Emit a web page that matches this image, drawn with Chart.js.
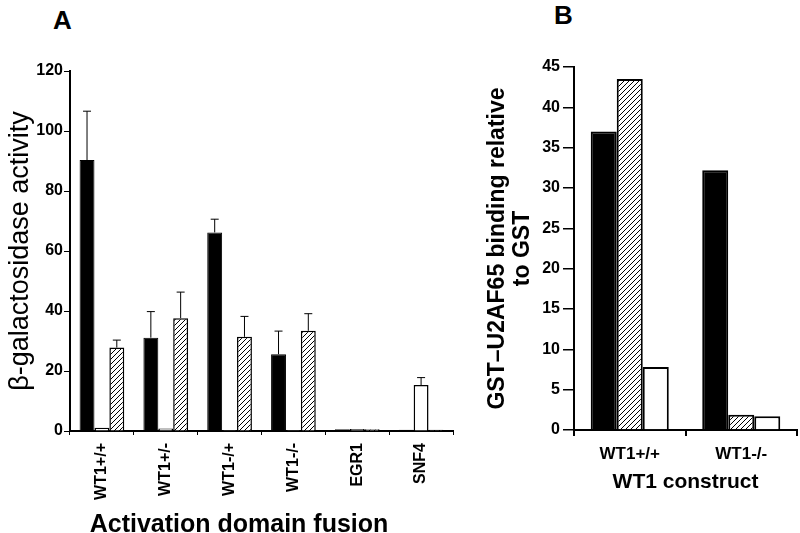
<!DOCTYPE html>
<html>
<head>
<meta charset="utf-8">
<script src="https://cdn.jsdelivr.net/npm/chart.js@4"></script>
<style>
  html, body { margin: 0; padding: 0; background: #fff; }
  body { position: relative; width: 800px; height: 533px; overflow: hidden;
         font-family: 'Liberation Sans', Arial, sans-serif; color: #000; }
  .panel-letter { position: absolute; font-weight: bold; font-size: 26px; line-height: 1; }
  #wrapA { position: absolute; left: 0; top: 0; width: 460px; height: 533px; }
  #wrapB { position: absolute; left: 460px; top: 0; width: 340px; height: 533px; }
  #titleA { position: absolute; left: 0; width: 478px; top: 511px; text-align: center;
            font-weight: bold; font-size: 25px; line-height: 1; }
</style>
</head>
<body>
<div class="panel-letter" style="left:53px; top:7px;">A</div>
<div class="panel-letter" style="left:554px; top:2px;">B</div>
<div id="wrapA"><canvas id="chartA" width="460" height="533"></canvas></div>
<div id="wrapB"><canvas id="chartB" width="340" height="533"></canvas></div>
<div id="titleA">Activation domain fusion</div>

<script>
// Panel A: beta-galactosidase activity per activation domain fusion
const fusionLabels = ['WT1+/+', 'WT1+/-', 'WT1-/+', 'WT1-/-', 'EGR1', 'SNF4'];
const fusionBlack = [90.3, 31.1, 66.2, 25.6, 0.6, 0.4];
const fusionBlackTop = [106.6, 39.8, 70.6, 33.3, null, null];
const fusionWhite = [1.1, 0.8, 0.3, 0.3, 0.7, 15.3];
const fusionWhiteTop = [null, null, null, null, null, 17.8];
const fusionHatched = [27.8, 37.6, 31.4, 33.4, 0.6, 0.4];
const fusionHatchedTop = [30.3, 46.3, 38.2, 39.1, null, null];

// Panel B: GST-U2AF65 binding per WT1 construct
const constructLabels = ['WT1+/+', 'WT1-/-'];
const bindingBlack = [37.0, 32.2];
const bindingHatched = [43.5, 1.9];
const bindingWhite = [7.8, 1.7];

const FONT = "'Liberation Sans', Arial, sans-serif";
Chart.defaults.font.family = FONT;
Chart.defaults.color = '#000';

/**
 * Diagonal "/" hatch pattern
 */
function makeHatch(ctx, size, lw) {
  const c = document.createElement('canvas');
  c.width = size;
  c.height = size;
  const g = c.getContext('2d');
  g.fillStyle = '#fff';
  g.fillRect(0, 0, size, size);
  g.strokeStyle = '#000';
  g.lineWidth = lw;
  g.beginPath();
  g.moveTo(0, size); g.lineTo(size, 0);
  g.moveTo(-1, 1); g.lineTo(1, -1);
  g.moveTo(size - 1, size + 1); g.lineTo(size + 1, size - 1);
  g.stroke();
  return ctx.createPattern(c, 'repeat');
}

/**
 * Upward error bars, read from dataset.errorTop
 */
const errorBars = {
  id: 'errorBars',
  afterDatasetsDraw(chart) {
    const ctx = chart.ctx;
    const yScale = chart.scales.y;
    chart.data.datasets.forEach((ds, i) => {
      if (!ds.errorTop) return;
      const meta = chart.getDatasetMeta(i);
      meta.data.forEach((bar, j) => {
        const top = ds.errorTop[j];
        if (top == null) return;
        const yTop = yScale.getPixelForValue(top);
        ctx.save();
        ctx.strokeStyle = '#000';
        ctx.lineWidth = 1;
        ctx.beginPath();
        ctx.moveTo(bar.x, bar.y);
        ctx.lineTo(bar.x, yTop);
        ctx.moveTo(bar.x - 4, yTop);
        ctx.lineTo(bar.x + 4, yTop);
        ctx.stroke();
        ctx.restore();
      });
    });
  },
};

const ctxA = document.getElementById('chartA').getContext('2d');
new Chart(ctxA, {
  type: 'bar',
  data: {
    labels: fusionLabels,
    datasets: [
      { data: fusionBlack, backgroundColor: '#000', borderColor: '#000', borderWidth: 1, errorTop: fusionBlackTop },
      { data: fusionWhite, backgroundColor: '#fff', borderColor: '#000', borderWidth: 1.5, errorTop: fusionWhiteTop },
      { data: fusionHatched, backgroundColor: makeHatch(ctxA, 5, 1), borderColor: '#000', borderWidth: 1.5, errorTop: fusionHatchedTop },
    ],
  },
  options: {
    responsive: false,
    animation: false,
    datasets: { bar: { categoryPercentage: 0.7, barPercentage: 1 } },
    layout: { padding: { left: 0, right: 7, top: 71, bottom: 0 } },
    plugins: { legend: { display: false }, tooltip: { enabled: false } },
    scales: {
      x: {
        grid: { drawOnChartArea: false, drawTicks: true, tickLength: 4, color: '#000', lineWidth: 1 },
        border: { display: true, color: '#000', width: 2 },
        ticks: { color: '#000', font: { size: 16, weight: 'bold' }, minRotation: 90, maxRotation: 90, padding: 8, autoSkip: false },
        afterFit: (s) => { s.height = 102; },
      },
      y: {
        min: 0,
        max: 120,
        ticks: { stepSize: 20, color: '#000', font: { size: 16, weight: 'bold' }, padding: 1 },
        grid: { drawOnChartArea: false, drawTicks: true, tickLength: 6, color: '#000', lineWidth: 1 },
        border: { display: true, color: '#000', width: 2 },
        title: {
          display: true,
          text: 'β-galactosidase activity',
          color: '#000',
          font: { size: 27, weight: 'normal' },
          padding: { top: 4, bottom: 0 },
        },
        afterFit: (s) => { s.width = 70; },
      },
    },
  },
  plugins: [errorBars],
});

const ctxB = document.getElementById('chartB').getContext('2d');
new Chart(ctxB, {
  type: 'bar',
  data: {
    labels: constructLabels,
    datasets: [
      { data: bindingBlack, backgroundColor: '#000', borderColor: '#000', borderWidth: 2 },
      { data: bindingHatched, backgroundColor: makeHatch(ctxB, 5, 1), borderColor: '#000', borderWidth: 2 },
      { data: bindingWhite, backgroundColor: '#fff', borderColor: '#000', borderWidth: 2 },
    ],
  },
  options: {
    responsive: false,
    animation: false,
    datasets: { bar: { categoryPercentage: 0.7, barPercentage: 1 } },
    layout: { padding: { left: 0, right: 3, top: 67, bottom: 0 } },
    plugins: { legend: { display: false }, tooltip: { enabled: false } },
    scales: {
      x: {
        grid: { drawOnChartArea: false, drawTicks: true, tickLength: 6, color: '#000', lineWidth: 2 },
        border: { display: true, color: '#000', width: 2 },
        ticks: { color: '#000', font: { size: 17, weight: 'bold' }, maxRotation: 0, padding: 8 },
        title: {
          display: true,
          text: 'WT1 construct',
          color: '#000',
          font: { size: 21, weight: 'bold' },
          padding: { top: 0, bottom: 38 },
        },
        afterFit: (s) => { s.height = 103; },
      },
      y: {
        min: 0,
        max: 45,
        ticks: { stepSize: 5, color: '#000', font: { size: 16, weight: 'bold' }, padding: 3 },
        grid: { drawOnChartArea: false, drawTicks: true, tickLength: 11, color: '#000', lineWidth: 1.5 },
        border: { display: true, color: '#000', width: 2 },
        title: {
          display: true,
          text: ['GST–U2AF65 binding relative', 'to GST'],
          color: '#000',
          font: { size: 23, weight: 'bold', lineHeight: 1.05 },
          padding: { top: 26, bottom: 0 },
        },
        afterFit: (s) => { s.width = 114; },
      },
    },
  },
});
</script>
</body>
</html>
